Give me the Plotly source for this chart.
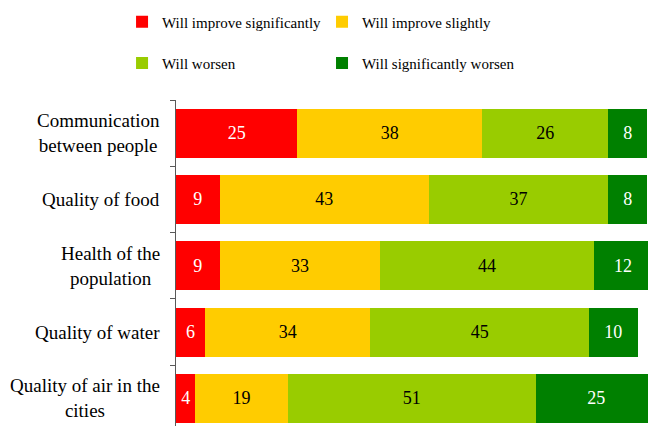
import plotly.graph_objects as go

categories = [
    "Communication<br>between people",
    "Quality of food",
    "Health of the<br>population",
    "Quality of water",
    "Quality of air in the<br>cities",
]
series_names = [
    "Will improve significantly",
    "Will improve slightly",
    "Will worsen",
    "Will significantly worsen",
]
improve_significantly = [25, 9, 9, 6, 4]
improve_slightly = [38, 43, 33, 34, 19]
worsen = [26, 37, 44, 45, 51]
significantly_worsen = [8, 8, 12, 10, 25]

_COLORS = ["#ff0000", "#ffcc00", "#99cc00", "#008000"]
_TEXT_COLORS = ["white", "black", "black", "white"]
# one legend per entry so the 2x2 grid sits exactly where the original has it
_LEGENDS = ["legend", "legend2", "legend3", "legend4"]
_LEGEND_POS = [(0.176, 0.9665), (0.4846, 0.9665), (0.176, 0.868), (0.4846, 0.868)]
FONT = "Liberation Serif"

fig = go.Figure()
for name, vals, color, tcolor, lg in zip(
    series_names,
    [improve_significantly, improve_slightly, worsen, significantly_worsen],
    _COLORS, _TEXT_COLORS, _LEGENDS,
):
    fig.add_trace(
        go.Bar(
            name=name,
            y=categories,
            x=vals,
            orientation="h",
            marker=dict(color=color, line=dict(width=0)),
            text=[str(v) for v in vals],
            textposition="inside",
            insidetextanchor="middle",
            textfont=dict(color=tcolor, size=18, family=FONT),
            constraintext="none",
            showlegend=True,
            legend=lg,
        )
    )

# category labels, centred per line like the original
for cat in categories:
    fig.add_annotation(
        x=0, y=cat, xref="paper", yref="y",
        text=cat, showarrow=False,
        xanchor="right", xshift=-14, align="center",
        font=dict(size=19, family=FONT, color="#000000"),
    )

legend_style = dict(
    orientation="h", xanchor="left", yanchor="middle",
    xref="container", yref="container",
    font=dict(size=15, family=FONT, color="#000000"),
    bgcolor="rgba(0,0,0,0)",
)
legends = {
    key: dict(x=x, y=y, **legend_style)
    for key, (x, y) in zip(_LEGENDS, _LEGEND_POS)
}

# page body adds an 8px margin, so the figure is 8px smaller than the window
fig.update_layout(
    barmode="stack",
    bargap=0.26,
    width=648,
    height=418,
    showlegend=True,
    margin=dict(l=168, r=0, t=92, b=0, autoexpand=False),
    paper_bgcolor="white",
    plot_bgcolor="white",
    font=dict(family=FONT, size=16, color="#000000"),
    xaxis=dict(range=[0, 98.8], visible=False),
    yaxis=dict(
        categoryorder="array", categoryarray=categories,
        range=[4.417, -0.5],
        showticklabels=False, showgrid=False,
        showline=True, linecolor="#595959", linewidth=1,
        ticks="outside", ticklen=5, tickcolor="#595959",
        tickson="boundaries",
    ),
    **legends,
)

fig.write_html("out.html")
